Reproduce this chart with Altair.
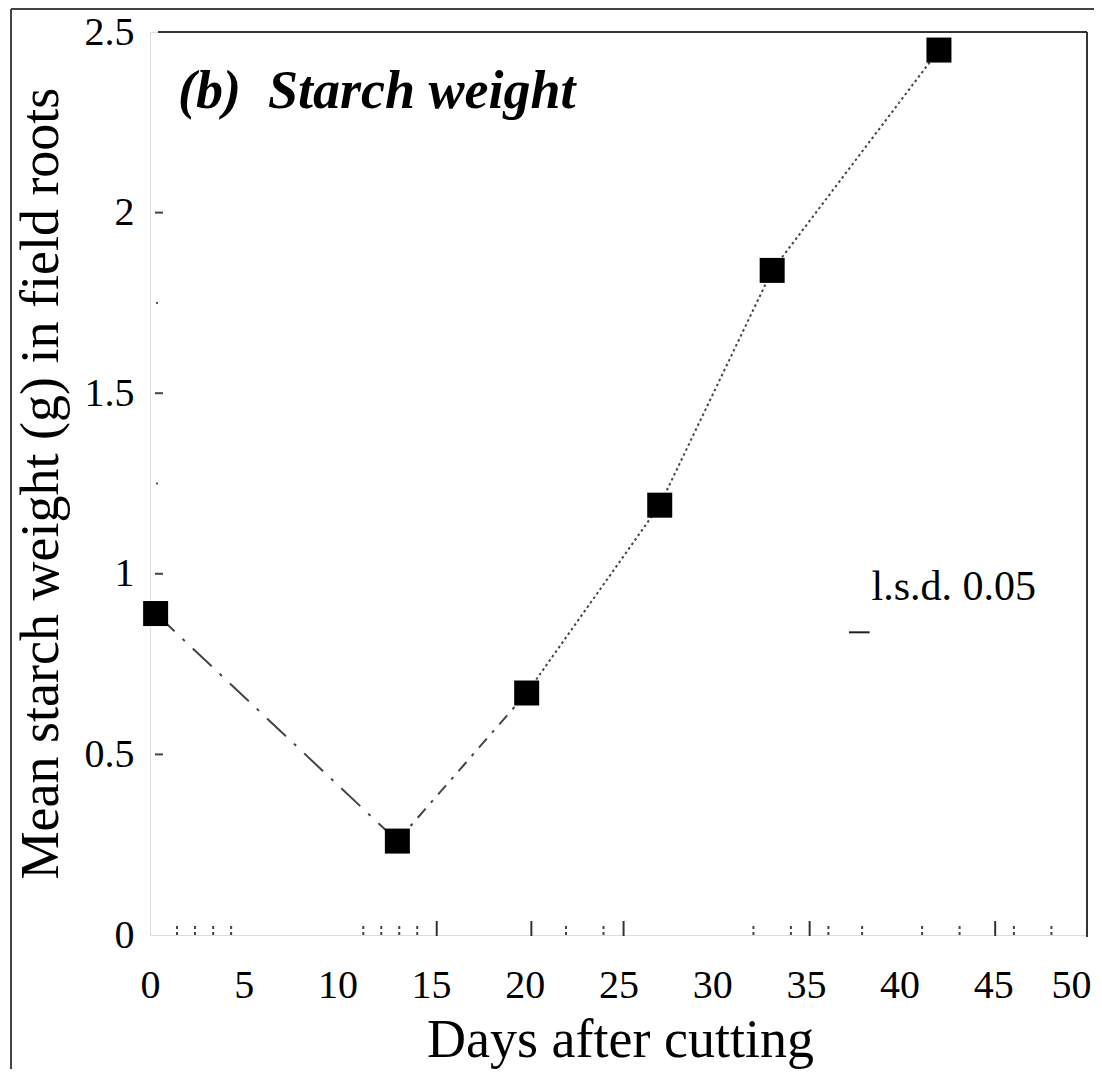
import altair as alt
import pandas as pd

# ---- data ----
days = [0.3, 13.2, 20.1, 27.2, 33.2, 42.1]
starch = [0.89, 0.26, 0.67, 1.19, 1.84, 2.45]
seg_style = ["dashdot", "dashdotdot", "dot", "dot", "dot"]

x_tick_values = [0, 5, 10, 15, 20, 25, 30, 35, 40, 45, 50]
y_tick_values = [0, 0.5, 1, 1.5, 2, 2.5]

x_solid_ticks = [15.3, 20.35, 25.27, 35.2, 45.1]
x_dotted_ticks = [1.44, 2.40, 3.37, 4.33, 11.38, 12.34, 13.30, 14.26,
                  22.2, 24.2, 32.2, 34.2, 36.2, 38.0, 41.2, 43.2, 46.1, 48.1]
y_major_ticks = [0.5, 1, 1.5, 2]
y_minor_ticks = [1.25, 1.75]

lsd_x = [37.3, 38.4]
lsd_y = [0.838]
lsd_label_x = [38.5]
lsd_label_y = [0.927]
lsd_text = ["l.s.d. 0.05"]

title_text = "(b)\u00a0\u00a0Starch weight"
x_title = "Days after cutting"
y_title = "Mean starch weight (g) in field roots"

FONT = "Liberation Serif"
W, H = 937, 903

xs = alt.Scale(domain=[0, 50], nice=False, zero=False)
ys = alt.Scale(domain=[0, 2.5], nice=False, zero=False)

# segments table
rows = []
for i in range(len(days) - 1):
    for j in (i, i + 1):
        rows.append({"seg": i, "style": seg_style[i], "day": days[j], "starch": starch[j]})
seg_df = pd.DataFrame(rows)
pts_df = pd.DataFrame({"day": days, "starch": starch})

x_axis = alt.Axis(values=x_tick_values, labelFont=FONT, labelFontSize=40, labelColor="black",
                  labelPadding=62, labelBaseline="alphabetic", ticks=False, tickSize=0,
                  labelOffset={"condition": {"test": "datum.value == 50", "value": -16}, "value": 0},
                  domain=False, grid=False, title=x_title, titleFont=FONT, titleFontSize=54,
                  titleFontWeight="normal", titleColor="black", titleX=470, titleY=121,
                  titleBaseline="alphabetic", titleAlign="center", labelFlush=False)
y_axis = alt.Axis(values=y_tick_values, format="~g", labelFont=FONT, labelFontSize=40,
                  labelColor="black", labelPadding=16, ticks=False, tickSize=0, domain=False,
                  grid=False, title=y_title, titleFont=FONT, titleFontSize=54,
                  titleFontWeight="normal", titleColor="black", titleX=-93, titleY=451,
                  titleAngle=270, titleBaseline="alphabetic", titleAlign="center",
                  labelFlush=False)

lines = alt.Chart(seg_df).mark_line(color="#444444", strokeWidth=2).encode(
    x=alt.X("day:Q", scale=xs, axis=x_axis),
    y=alt.Y("starch:Q", scale=ys, axis=y_axis),
    detail="seg:N",
    strokeDash=alt.StrokeDash("style:N", scale=alt.Scale(
        domain=["dashdot", "dashdotdot", "dot"],
        range=[[26, 11, 3, 11], [12, 8, 3, 8], [2.5, 3]]), legend=None),
)

points = alt.Chart(pts_df).mark_point(shape="square", filled=True, size=625,
                                      color="black", opacity=1).encode(
    x=alt.X("day:Q", scale=xs), y=alt.Y("starch:Q", scale=ys))

solid_ticks = alt.Chart(pd.DataFrame({"d": x_solid_ticks})).mark_rule(
    color="#333333", strokeWidth=2).encode(
    x=alt.X("d:Q", scale=xs), y=alt.value(H - 14), y2=alt.value(H + 1))

dotted_ticks = alt.Chart(pd.DataFrame({"d": x_dotted_ticks})).mark_rule(
    color="#444444", strokeWidth=2, strokeDash=[3, 3]).encode(
    x=alt.X("d:Q", scale=xs), y=alt.value(H - 9), y2=alt.value(H + 1))

y_major = alt.Chart(pd.DataFrame({"v": y_major_ticks})).mark_rule(
    color="#444444", strokeWidth=2).encode(
    y=alt.Y("v:Q", scale=ys), x=alt.value(5), x2=alt.value(13))

y_minor = alt.Chart(pd.DataFrame({"v": y_minor_ticks})).mark_rule(
    color="#555555", strokeWidth=2).encode(
    y=alt.Y("v:Q", scale=ys), x=alt.value(6), x2=alt.value(8))

one = pd.DataFrame({"a": [0]})
top_border = alt.Chart(one).mark_rule(color="#333333", strokeWidth=2).encode(
    x=alt.value(8), x2=alt.value(W), y=alt.value(0))
right_border = alt.Chart(one).mark_rule(color="#333333", strokeWidth=2).encode(
    x=alt.value(W), y=alt.value(0), y2=alt.value(H + 2))
frame_left = alt.Chart(one).mark_rule(color="#444444", strokeWidth=2).encode(
    x=alt.value(-139), y=alt.value(-23), y2=alt.value(H + 200))
frame_top = alt.Chart(one).mark_rule(color="#444444", strokeWidth=2).encode(
    x=alt.value(-139), x2=alt.value(W + 30), y=alt.value(-23))

lsd_bar = alt.Chart(pd.DataFrame({"x1": [lsd_x[0]], "x2": [lsd_x[1]], "y": lsd_y})).mark_rule(
    color="#222222", strokeWidth=2).encode(
    x=alt.X("x1:Q", scale=xs), x2="x2:Q", y=alt.Y("y:Q", scale=ys))

lsd_lab = alt.Chart(pd.DataFrame({"x": lsd_label_x, "y": lsd_label_y, "t": lsd_text})).mark_text(
    font=FONT, fontSize=42, align="left", baseline="alphabetic", color="black").encode(
    x=alt.X("x:Q", scale=xs), y=alt.Y("y:Q", scale=ys), text="t:N")

title = alt.Chart(one).mark_text(
    font=FONT, fontSize=54, fontStyle="italic", fontWeight="bold", align="left",
    baseline="alphabetic", color="black", text=title_text).encode(
    x=alt.value(28), y=alt.value(76))

chart = alt.layer(
    frame_left, frame_top, top_border, right_border, solid_ticks, dotted_ticks,
    y_major, y_minor, lines, points, lsd_bar, lsd_lab, title
).properties(
    width=W, height=H,
    autosize=alt.AutoSizeParams(type="none"),
    padding={"left": 142, "top": 24, "right": 7, "bottom": 134},
).configure_view(stroke=None).configure(background="white")

chart.save("out.html", embed_options={"renderer": "svg", "actions": False})
